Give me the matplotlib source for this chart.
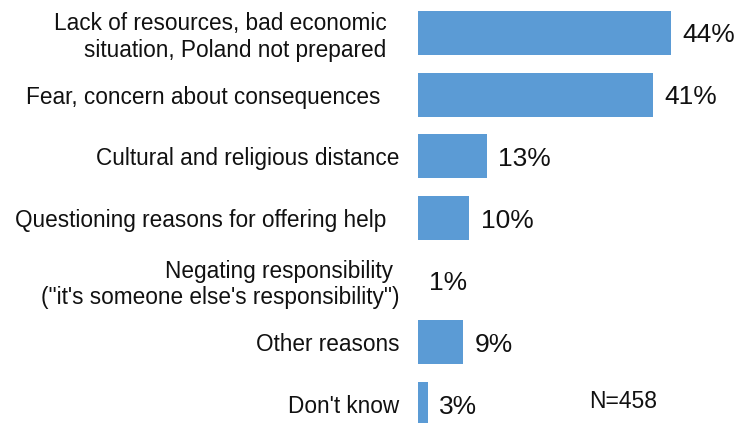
import matplotlib
matplotlib.use("Agg")
import matplotlib.pyplot as plt

categories = [
    "Lack of resources, bad economic  \nsituation, Poland not prepared  ",
    "Fear, concern about consequences   ",
    "Cultural and religious distance",
    "Questioning reasons for offering help  ",
    "Negating responsibility \n(\"it's someone else's responsibility\")",
    "Other reasons",
    "Don't know",
]
values = [44, 41, 13, 10, 1, 9, 3]
value_labels = ["44%", "41%", "13%", "10%", "1%", "9%", "3%"]
note = "N=458"

plt.rcParams['font.family'] = ['Liberation Sans', 'DejaVu Sans']

W, H = 740, 423
fig = plt.figure(figsize=(W / 100, H / 100), dpi=100)
fig.patch.set_facecolor('white')

# axes placement (pixels -> figure fraction)
top_px, bot_px = 1.7, 435.0
left_px = 418.0
ax = fig.add_axes([left_px / W, 1 - bot_px / H, 1 - left_px / W, (bot_px - top_px) / H])

color = '#5B9BD5'
pos = list(range(len(categories)))
ax.barh(pos, values, height=0.71, color=color, edgecolor='none', left=0)

x0 = 1.33
ax.set_xlim(x0, x0 + (W - left_px) / 5.93)
ax.set_ylim(len(categories) - 0.5, -0.5)

ax.set_yticks(pos)
ax.set_yticklabels(categories, fontsize=16.3, color='#111111', linespacing=1.2)
ax.tick_params(axis='y', length=0, pad=13.5)
ax.set_xticks([])
for s in ax.spines.values():
    s.set_visible(False)
ax.patch.set_alpha(0)

for p, v, lab in zip(pos, values, value_labels):
    ax.annotate(lab, xy=(max(v, x0), p), xytext=(8, -1.8), textcoords='offset points',
                ha='left', va='center', fontsize=19, color='#111111')

fig.text(589 / W, 1 - 401 / H, note, ha='left', va='center', fontsize=16.5, color='#111111')

fig.savefig('out.png', dpi=100, facecolor='white')
